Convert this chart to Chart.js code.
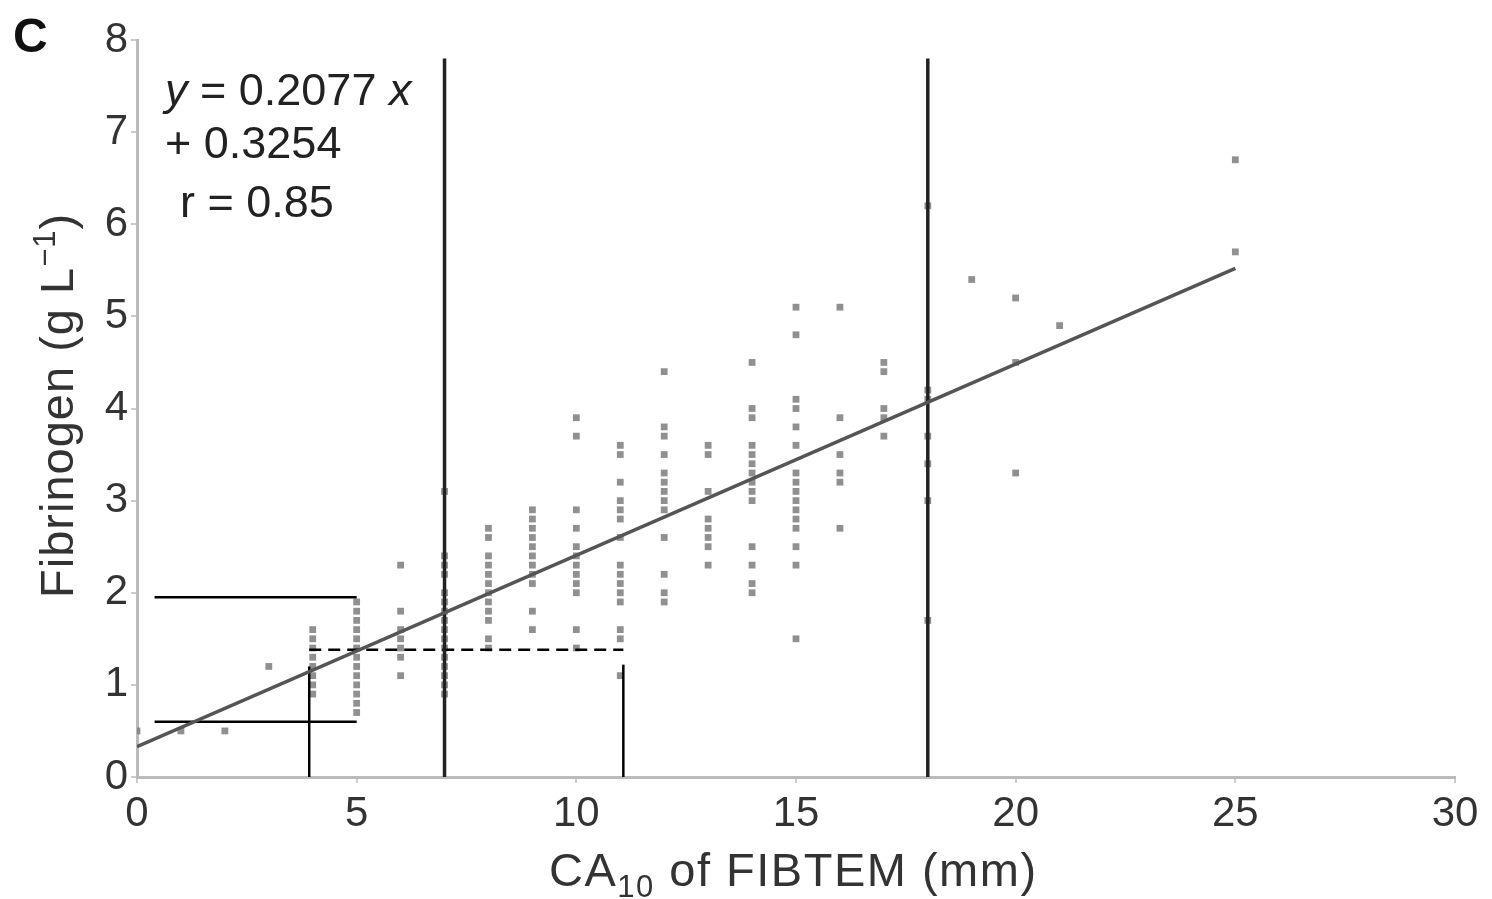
<!DOCTYPE html>
<html>
<head>
<meta charset="utf-8">
<script src="https://cdn.jsdelivr.net/npm/chart.js@4.4.1/dist/chart.umd.min.js"></script>
<style>
  body { margin: 0; background: #fff; }
  #wrap { width: 1492px; height: 899px; }
</style>
</head>
<body>
<div id="wrap"><canvas id="fibChart" width="1492" height="899"></canvas></div>
<script>
// CA10 of FIBTEM (mm) columns and the fibrinogen values
const caColumns = [0, 1, 2, 3, 4, 5, 6, 7, 8, 9, 10, 11, 12, 13, 14, 15, 16, 17, 18, 19, 20, 21, 25];
const fibValues = [
  [0.5],
  [0.5],
  [0.5],
  [1.2],
  [1.6, 1.5, 1.4, 1.3, 1.2, 1.1, 1.0, 0.9],
  [1.9, 1.8, 1.7, 1.6, 1.5, 1.4, 1.3, 1.2, 1.1, 1.0, 0.9, 0.8, 0.7],
  [2.3, 1.8, 1.6, 1.5, 1.4, 1.3, 1.1],
  [3.1, 2.4, 2.3, 2.2, 2.0, 1.9, 1.8, 1.7, 1.6, 1.5, 1.4, 1.3, 1.2, 1.1, 1.0, 0.9],
  [2.7, 2.6, 2.4, 2.3, 2.2, 2.1, 2.0, 1.9, 1.8, 1.7, 1.5, 1.4],
  [2.9, 2.8, 2.7, 2.6, 2.5, 2.4, 2.3, 2.2, 2.1, 1.8, 1.6],
  [3.9, 3.7, 2.9, 2.7, 2.5, 2.4, 2.3, 2.2, 2.1, 2.0, 1.6, 1.4],
  [3.6, 3.5, 3.2, 3.0, 2.9, 2.8, 2.6, 2.3, 2.2, 2.1, 2.0, 1.9, 1.6, 1.5, 1.1],
  [4.4, 3.8, 3.7, 3.5, 3.3, 3.2, 3.1, 3.0, 2.9, 2.6, 2.2, 2.0, 1.9],
  [3.6, 3.5, 3.1, 2.8, 2.7, 2.6, 2.5, 2.3],
  [4.5, 4.0, 3.9, 3.6, 3.5, 3.4, 3.3, 3.2, 3.1, 3.0, 2.5, 2.3, 2.1, 2.0],
  [5.1, 4.8, 4.1, 4.0, 3.8, 3.6, 3.3, 3.2, 3.1, 3.0, 2.9, 2.8, 2.7, 2.5, 2.3, 1.5],
  [5.1, 3.9, 3.5, 3.3, 3.2, 2.7],
  [4.5, 4.4, 4.0, 3.9, 3.7],
  [6.2, 4.2, 4.1, 3.7, 3.4, 3.0, 1.7],
  [5.4],
  [5.2, 4.5, 3.3],
  [4.9],
  [6.7, 5.7]
];

// regression line y = 0.2077x + 0.3254, end points
const fitX = [0, 25];
const fitY = [0.33, 5.52];

// thick cut-off lines at CA10 = 7 and 18 mm
const cutoffX = [7, 18];
const cutoffTop = 7.8;

// thin annotation segments [x1, y1, x2, y2]
const solidSegs = [
  [0.4, 1.95, 5.0, 1.95],
  [0.4, 0.6, 5.0, 0.6],
  [3.92, 0, 3.92, 1.2],
  [11.07, 0, 11.07, 1.22]
];
const dashedSegs = [
  [3.92, 1.38, 11.07, 1.38]
];

const xTicks = [0, 5, 10, 15, 20, 25, 30];
const yTicks = [0, 1, 2, 3, 4, 5, 6, 7, 8];

const points = [];
caColumns.forEach((cx, i) => {
  fibValues[i].forEach(v => points.push({ x: cx, y: v }));
});

const lineSet = (data, color, width, dash) => ({
  type: 'line',
  data: data,
  borderColor: color,
  borderWidth: width,
  borderDash: dash || [],
  pointRadius: 0,
  fill: false,
  tension: 0,
  order: 1
});

const datasets = [
  {
    type: 'scatter',
    data: points,
    pointStyle: 'rect',
    pointRadius: 4.8,
    backgroundColor: 'rgba(125,125,125,0.85)',
    borderWidth: 0,
    order: 3
  },
  lineSet(fitX.map((x, i) => ({ x: x, y: fitY[i] })), '#555', 3.5)
];
cutoffX.forEach(cx => {
  datasets.push(lineSet([{ x: cx, y: 0 }, { x: cx, y: cutoffTop }], '#222', 3.5));
});
solidSegs.forEach(s => {
  datasets.push(lineSet([{ x: s[0], y: s[1] }, { x: s[2], y: s[3] }], '#000', 2.5));
});
dashedSegs.forEach(s => {
  datasets.push(lineSet([{ x: s[0], y: s[1] }, { x: s[2], y: s[3] }], '#000', 2.5, [12, 7]));
});

const FAM = '"Liberation Sans", Arial, sans-serif';

// draws pieces [text, fontSize, italic, yShift] one after another
function drawRun(ctx, pieces, x, y) {
  pieces.forEach(p => {
    ctx.font = (p[2] ? 'italic ' : '') + p[1] + 'px ' + FAM;
    ctx.fillText(p[0], x, y + (p[3] || 0));
    x += ctx.measureText(p[0]).width;
  });
}

// panel letter, regression text, axis titles with sub/superscripts
const textPlugin = {
  id: 'textPlugin',
  afterDraw(chart) {
    const ctx = chart.ctx;
    ctx.save();
    ctx.textBaseline = 'alphabetic';
    ctx.textAlign = 'left';
    ctx.fillStyle = '#111';
    ctx.font = 'bold 48px ' + FAM;
    ctx.fillText('C', 13, 52);

    ctx.fillStyle = '#222';
    drawRun(ctx, [['y', 45, true], [' = 0.2077 ', 45], ['x', 45, true]], 165, 105);
    drawRun(ctx, [['+ 0.3254', 45]], 165, 158);
    drawRun(ctx, [['r = 0.85', 45]], 180, 217);

    ctx.fillStyle = '#333';
    ctx.letterSpacing = '1.5px';
    // x title
    drawRun(ctx, [['CA', 47], ['10', 31, false, 11], [' of FIBTEM (mm)', 47]], 549, 886);
    // y title
    ctx.letterSpacing = '1px';
    ctx.translate(73, 598);
    ctx.rotate(-Math.PI / 2);
    drawRun(ctx, [['Fibrinogen (g L', 47], ['−1', 31, false, -18], [')', 47]], 0, 0);
    ctx.restore();
  }
};

const tickFont = { family: FAM, size: 42 };

new Chart(document.getElementById('fibChart'), {
  type: 'scatter',
  data: { datasets: datasets },
  options: {
    responsive: false,
    animation: false,
    devicePixelRatio: 1,
    layout: { padding: { top: 40, right: 37, left: 0, bottom: 0 } },
    plugins: { legend: { display: false }, tooltip: { enabled: false } },
    scales: {
      x: {
        type: 'linear',
        min: 0,
        max: 30,
        afterBuildTicks: s => { s.ticks = xTicks.map(v => ({ value: v })); },
        afterFit: s => { s.height = 122; },
        ticks: { font: tickFont, color: '#333', padding: 6, maxRotation: 0 },
        border: { color: '#bbb', width: 3 },
        grid: { drawOnChartArea: false, tickLength: 6, color: '#ccc', lineWidth: 2 },
        title: { display: false }
      },
      y: {
        type: 'linear',
        min: 0,
        max: 8,
        afterBuildTicks: s => { s.ticks = yTicks.map(v => ({ value: v })); },
        afterFit: s => { s.width = 137; },
        ticks: { font: tickFont, color: '#333', padding: 3 },
        border: { color: '#bbb', width: 3 },
        grid: { drawOnChartArea: false, tickLength: 6, color: '#ccc', lineWidth: 2 },
        title: { display: false }
      }
    }
  },
  plugins: [textPlugin]
});
</script>
</body>
</html>
